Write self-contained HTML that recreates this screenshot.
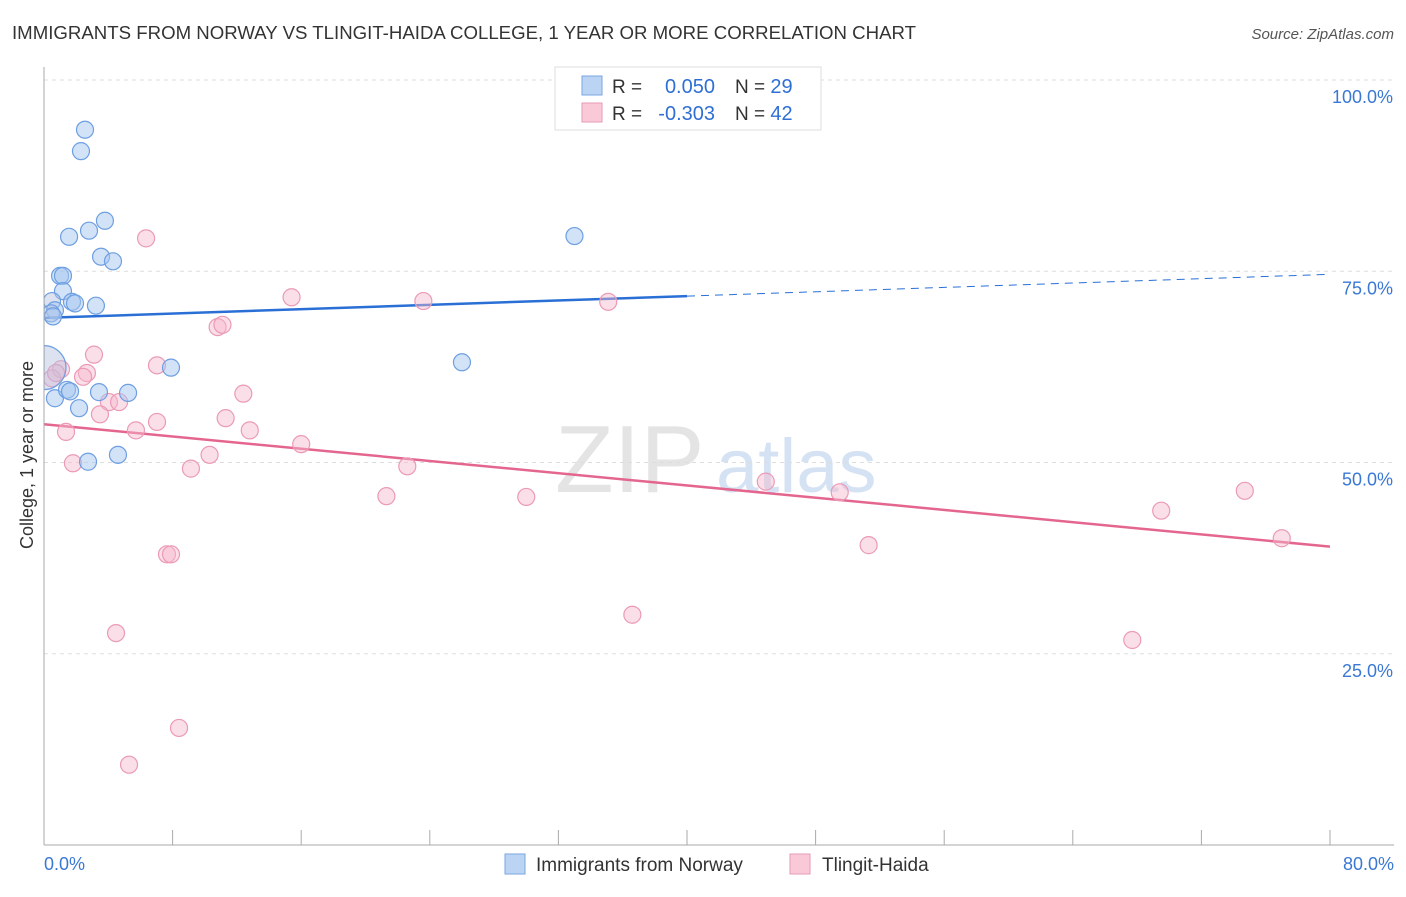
<!DOCTYPE html>
<html><head><meta charset="utf-8"><style>
body{margin:0;background:#fff;font-family:"Liberation Sans",sans-serif;}
svg text{font-family:"Liberation Sans",sans-serif;}
</style></head><body>
<svg id="chart" width="1406" height="892" xmlns="http://www.w3.org/2000/svg">
<text x="12" y="39" font-size="18" fill="#333" textLength="904" lengthAdjust="spacingAndGlyphs">IMMIGRANTS FROM NORWAY VS TLINGIT-HAIDA COLLEGE, 1 YEAR OR MORE CORRELATION CHART</text>
<text x="1394" y="39" font-size="15" fill="#555" text-anchor="end" font-style="italic">Source: ZipAtlas.com</text>
<g>
<text x="555" y="492" font-size="96" fill="#e4e4e4" font-family="Liberation Serif">ZIP</text>
<text x="716" y="492" font-size="76" fill="#d4e2f4">atlas</text>
</g>
<g id="grid"></g>
<g id="trend"></g>
<g id="points"></g>
<rect x="0" y="60" width="43.5" height="800" fill="#fff"/>
<g id="axes"></g>
<text x="33" y="455" font-size="18" fill="#333" text-anchor="middle" transform="rotate(-90 33 455)">College, 1 year or more</text>
<g>
<rect x="555" y="67" width="266" height="63" fill="#fff" stroke="#ddd"/>
<rect x="582" y="76" width="20" height="19" fill="#bcd4f4" stroke="#7aa6e0"/>
<rect x="582" y="103" width="20" height="19" fill="#f9c9d8" stroke="#e89ab4"/>
<text x="612" y="93" font-size="19" fill="#333">R =</text>
<text x="715" y="93" font-size="20" fill="#2f6fd4" text-anchor="end">0.050</text>
<text x="735" y="93" font-size="19" fill="#333">N = <tspan fill="#2f6fd4" font-size="20">29</tspan></text>
<text x="612" y="120" font-size="19" fill="#333">R =</text>
<text x="715" y="120" font-size="20" fill="#2f6fd4" text-anchor="end">-0.303</text>
<text x="735" y="120" font-size="19" fill="#333">N = <tspan fill="#2f6fd4" font-size="20">42</tspan></text>
</g>
<g>
<rect x="505" y="854" width="20" height="20" fill="#bcd4f4" stroke="#7aa6e0"/>
<text x="536" y="871" font-size="19" fill="#333">Immigrants from Norway</text>
<rect x="790" y="854" width="20" height="20" fill="#f9c9d8" stroke="#e89ab4"/>
<text x="822" y="871" font-size="19" fill="#333">Tlingit-Haida</text>
</g>
</svg>
<script>
const yTicks=[25,50,75,100];
const yTickLabels=["25.0%","50.0%","75.0%","100.0%"];
const xTickLabels=["0.0%","80.0%"];
const norwayX=[2.55,2.30,3.79,2.80,1.56,3.55,4.29,1.00,1.18,1.18,0.50,1.74,1.93,3.23,0.68,0.44,0.56,33.0,26.0,7.90,0.68,1.43,1.62,3.42,5.23,2.18,2.74,4.60,0];
const norwayY=[93.5,90.7,81.6,80.3,79.5,76.9,76.3,74.4,74.4,72.4,71.1,71.0,70.8,70.5,69.9,69.5,69.1,79.6,63.1,62.4,58.4,59.5,59.3,59.2,59.1,57.1,50.1,51.0,62.4];
const tlingitX=[6.35,15.4,23.6,35.1,10.8,11.1,3.11,7.03,1.06,2.67,2.43,0.50,0.75,12.4,4.04,4.67,11.3,7.03,3.48,1.37,5.72,12.8,16.0,10.3,1.80,9.14,22.6,21.3,30.0,44.9,49.5,74.7,69.5,77.0,51.3,7.65,7.90,36.6,67.7,4.48,8.40,5.29];
const tlingitY=[79.3,71.6,71.1,71.0,67.7,68.0,64.1,62.7,62.2,61.7,61.2,61.0,61.7,59.0,57.9,57.9,55.8,55.3,56.3,54.0,54.2,54.2,52.4,51.0,49.9,49.2,49.5,45.6,45.5,47.5,46.1,46.3,43.7,40.1,39.2,38.0,38.0,30.1,26.8,27.7,15.3,10.5];
const norwayTrend=[68.9,74.6];
const tlingitTrend=[55.0,39.0];
const NS="http://www.w3.org/2000/svg";
const X=v=>44+v/80*1286, Y=v=>845-v*7.65;
function mk(tag,attrs,parent){const e=document.createElementNS(NS,tag);for(const k in attrs)e.setAttribute(k,attrs[k]);parent.appendChild(e);return e;}
const grid=document.getElementById('grid'),axes=document.getElementById('axes');
yTicks.forEach((t,i)=>{
 const l=mk('line',{x1:44,x2:1394,y1:Y(t),y2:Y(t),stroke:'#ddd','stroke-dasharray':'4,4'},grid);
 
 
 const tx=mk('text',{x:1393,y:Y(t)+23,'font-size':18,fill:'#3a78d4','text-anchor':'end'},axes);
 tx.textContent=yTickLabels[i];
 
 
});
const ax=mk('line',{x1:44,x2:44,y1:67,y2:845,stroke:'#aaa'},axes);


const bx=mk('line',{x1:44,x2:1394,y1:845,y2:845,stroke:'#aaa'},axes);


for(let i=0;i<=10;i++){
 const t=mk('line',{x1:X(i*8),x2:X(i*8),y1:830,y2:845,stroke:'#aaa'},axes);
 
 
}
[[0,'start',44],[80,'end',1394]].forEach((d,i)=>{
 const t=mk('text',{x:d[2],y:870,'font-size':18,fill:'#3a78d4','text-anchor':d[1]},axes);
 t.textContent=xTickLabels[i];
 
 
});
const tr=document.getElementById('trend');
let l1=mk('line',{x1:X(0),y1:Y(norwayTrend[0]),x2:X(40),y2:Y((norwayTrend[0]+norwayTrend[1])/2),stroke:'#2a6fd6','stroke-width':2.5},tr);


let l2=mk('line',{x1:X(40),y1:Y((norwayTrend[0]+norwayTrend[1])/2),x2:X(80),y2:Y(norwayTrend[1]),stroke:'#2a6fd6','stroke-width':1,'stroke-dasharray':'8,6'},tr);


let l3=mk('line',{x1:X(0),y1:Y(tlingitTrend[0]),x2:X(80),y2:Y(tlingitTrend[1]),stroke:'#e4668f','stroke-width':2.5},tr);


const pts=document.getElementById('points');
tlingitX.forEach((x,i)=>{
 const c=mk('circle',{cx:X(x),cy:Y(tlingitY[i]),r:8.5,fill:'rgba(247,185,205,0.45)',stroke:'#eb9ab6','stroke-width':1.2},pts);
 
 
});
norwayX.forEach((x,i)=>{
 const big=i===norwayX.length-1;
 const cx=X(x),cy=Y(norwayY[i]),r=big?22:8.5;
 let c;
 if(cx-r<44){
  const dx=44-cx, h=Math.sqrt(r*r-dx*dx);
  c=mk('path',{d:`M44,${cy-h} A${r},${r} 0 ${dx<0?1:0} 1 44,${cy+h} Z`,fill:'rgba(180,190,225,0.45)',stroke:'#6d9fe2','stroke-width':1.2},pts);
 } else {
  c=mk('circle',{cx:cx,cy:cy,r:r,fill:big?'rgba(180,190,225,0.45)':'rgba(165,198,240,0.5)',stroke:'#6d9fe2','stroke-width':1.2},pts);
 }
 
 
});
</script>
</body></html>
